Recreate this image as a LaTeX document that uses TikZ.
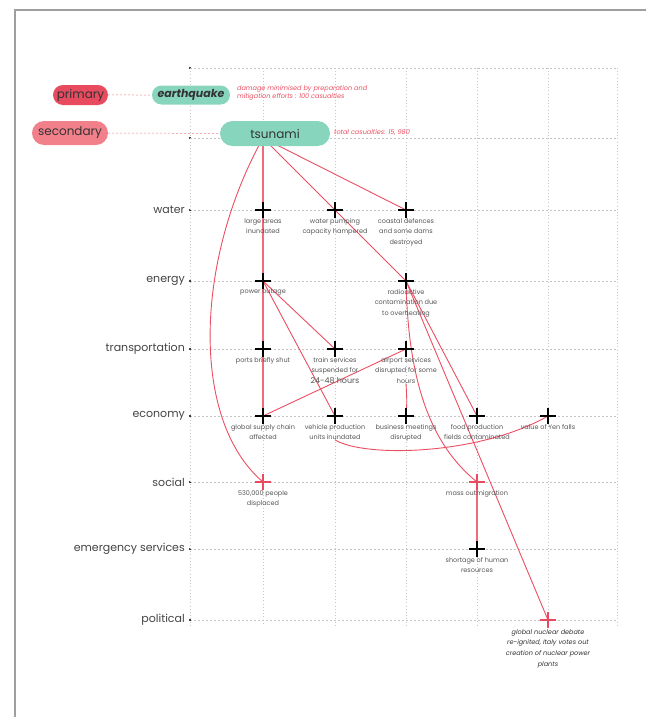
\documentclass[tikz,border=0pt]{standalone}
\usepackage{fontspec}
\setmainfont{Poppins}
\usetikzlibrary{shapes.misc}
\pgfdeclarelayer{bg}
\pgfdeclarelayer{links}
\pgfsetlayers{bg,links,main}
\definecolor{mint}{HTML}{86D5BC}
\definecolor{primc}{HTML}{E84A5F}
\definecolor{secc}{HTML}{F2808A}
\definecolor{redl}{HTML}{EC4F62}
\definecolor{vredl}{HTML}{F06A7A}
\definecolor{gridc}{HTML}{C4C4C4}
\definecolor{txtc}{HTML}{555555}
\definecolor{rowc}{HTML}{444444}
\tikzset{
  pill/.style={rounded rectangle, inner sep=0pt, text=black!80},
  crossk/.style={minimum size=16pt, inner sep=0pt, path picture={\draw[line width=1.8pt,#1] (path picture bounding box.north) -- (path picture bounding box.south) (path picture bounding box.west) -- (path picture bounding box.east);}},
  crossk/.default=black,
  lbl/.style={anchor=north, align=center, font=\fontsize{6.5}{10.5}\selectfont, text=txtc, inner sep=0pt},
  rowlbl/.style={anchor=east, font=\fontsize{11}{11}\selectfont, text=rowc, inner sep=0pt},
  hgrid/.style={gridc, line width=0.5pt, dash pattern=on 2pt off 2pt},
  vgrid/.style={gridc, line width=0.6pt, dash pattern=on 0.8pt off 2.4pt},
  link/.style={redl, line width=0.9pt},
  vlink/.style={vredl, line width=1.6pt},
  pinkdash/.style={secc, line width=0.5pt, dash pattern=on 2pt off 2pt},
  note/.style={anchor=west, align=left, font=\fontsize{6.5}{8}\selectfont\itshape, text=redl, inner sep=0pt},
}
\begin{document}
\begin{tikzpicture}[x=1pt,y=-1pt]
\useasboundingbox (0,0) rectangle (646,717);
\begin{pgfonlayer}{bg}
\fill[white] (0,0) rectangle (646,717);
\draw[gray!75, line width=1.5pt] (15,717) -- (15,10) -- (646,10);
% grid
\foreach \yy in {68,138,210,281,349,416,482,549,620} {
  \draw[hgrid] (190,\yy) -- (617,\yy);
  \fill[black] (190,\yy) circle (1.2pt);
}
\foreach \xx in {190,335,406,548,617} {
  \draw[vgrid] (\xx,68) -- (\xx,626);
}
\draw[vgrid] (263,68) -- (263,124);
\draw[vgrid] (263,418) -- (263,626);
\draw[vgrid] (477,68) -- (477,482);
\draw[vgrid] (477,551) -- (477,626);
\end{pgfonlayer}

% header pills
\node[pill, fill=primc, minimum width=55pt, minimum height=20pt, font=\fontsize{12}{12}\selectfont] (prim) at (80.5,95) {primary};
\node[pill, fill=secc, minimum width=76pt, minimum height=24pt, font=\fontsize{12}{12}\selectfont] (sec) at (70,133) {secondary};
\node[pill, fill=mint, minimum width=78pt, minimum height=19pt, font=\fontsize{11}{11}\selectfont\bfseries\itshape] (eq) at (191,95) {earthquake};
\node[pill, fill=mint, minimum width=110pt, minimum height=25pt, font=\fontsize{12}{12}\selectfont] (tsu) at (275,133.5) {tsunami};
\coordinate (T) at (263,138);
\node[note] (eqnote) at (237,93) {damage minimised by preparation and\\mitigation efforts : 100 casualties};
\node[note] (tsunote) at (334,132) {total casualties: 15, 980};

% row labels
\node[rowlbl] (Rwater) at (185,210) {water};
\node[rowlbl] (Renergy) at (185,281) {energy};
\node[rowlbl] (Rtrans) at (185,349) {transportation};
\node[rowlbl] (Recon) at (185,416) {economy};
\node[rowlbl] (Rsocial) at (185,482) {social};
\node[rowlbl] (Remerg) at (185,549) {emergency services};
\node[rowlbl] (Rpol) at (185,620) {political};

% crosses
\node[crossk] (A1) at (263,210) {};
\node[crossk] (A2) at (335,210) {};
\node[crossk] (A3) at (406,210) {};
\node[crossk] (B1) at (263,281) {};
\node[crossk] (B2) at (406,281) {};
\node[crossk] (C1) at (263,349) {};
\node[crossk] (C2) at (335,349) {};
\node[crossk] (C3) at (406,349) {};
\node[crossk] (D1) at (263,416) {};
\node[crossk] (D2) at (335,416) {};
\node[crossk] (D3) at (406,416) {};
\node[crossk] (D4) at (477,416) {};
\node[crossk] (D5) at (548,416) {};
\node[crossk=primc] (E1) at (263,482) {};
\node[crossk=primc] (E2) at (477,482) {};
\node[crossk] (F1) at (477,549) {};
\node[crossk=primc] (G1) at (548,620) {};

% labels
\node[lbl] (A1l) at (263,218) {large areas\\inundated};
\node[lbl] (A2l) at (335,218) {water pumping\\capacity hampered};
\node[lbl] (A3l) at (406,218) {coastal defences\\and some dams\\destroyed};
\node[lbl] (B1l) at (263,289) {power outage};
\node[lbl] (B2l) at (406,289) {radioactive\\contamination due\\to overheating};
\node[lbl] (C1l) at (263,357) {ports briefly shut};
\node[lbl] (C2l) at (335,357) {train services\\suspended for\\{\fontsize{8}{10}\selectfont 24-48 hours}};
\node[lbl] (C3l) at (406,357) {airport services\\disrupted for some\\hours};
\node[lbl] (D1l) at (263,424) {global supply chain\\affected};
\node[lbl] (D2l) at (335,424) {vehicle production\\units inundated};
\node[lbl] (D3l) at (406,424) {business meetings\\disrupted};
\node[lbl] (D4l) at (477,424) {food production\\fields contaminated};
\node[lbl] (D5l) at (548,424) {value of Yen falls};
\node[lbl] (E1l) at (263,490) {530,000 people\\displaced};
\node[lbl] (E2l) at (477,490) {mass outmigration};
\node[lbl] (F1l) at (477,557) {shortage of human\\resources};
\node[lbl, text=black!80, font=\fontsize{6.5}{10.8}\selectfont\itshape] (G1l) at (548,629) {global nuclear debate\\re-ignited, Italy votes out\\creation of nuclear power\\plants};

% connectors
\begin{pgfonlayer}{links}
\draw[pinkdash] (prim) -- (eq);
\draw[pinkdash] (sec) -- (tsu);
\draw[vlink] (T) -- (A1.center);
\draw[link] (T) -- (A2.center);
\draw[link] (T) -- (A3.center);
\draw[link] (A2.center) -- (B2.center);
\draw[vlink] (A1.center) -- (B1.center);
\draw[vlink] (B1.center) -- (C1.center);
\draw[vlink] (C1.center) -- (D1.center);
\draw[link] (B1.center) -- (C2.center);
\draw[link] (B1.center) -- (D2.center);
\draw[link] (C3.center) -- (D1.center);
\draw[link] (C3l.south) .. controls (407,402) .. (D3.center);
\draw[link] (T) .. controls (195,260) and (190,420) .. (E1.center);
\draw[link] (B2.center) .. controls (408,370) and (425,440) .. (E2.center);
\draw[link] (B2.center) -- (D4.center);
\draw[link] (B2.center) -- (G1.center);
\draw[link] (D2l.south) .. controls (365,458) and (480,455) .. (D5.center);
\draw[vlink] (E2.center) -- (F1.center);
\end{pgfonlayer}
\end{tikzpicture}
\end{document}
